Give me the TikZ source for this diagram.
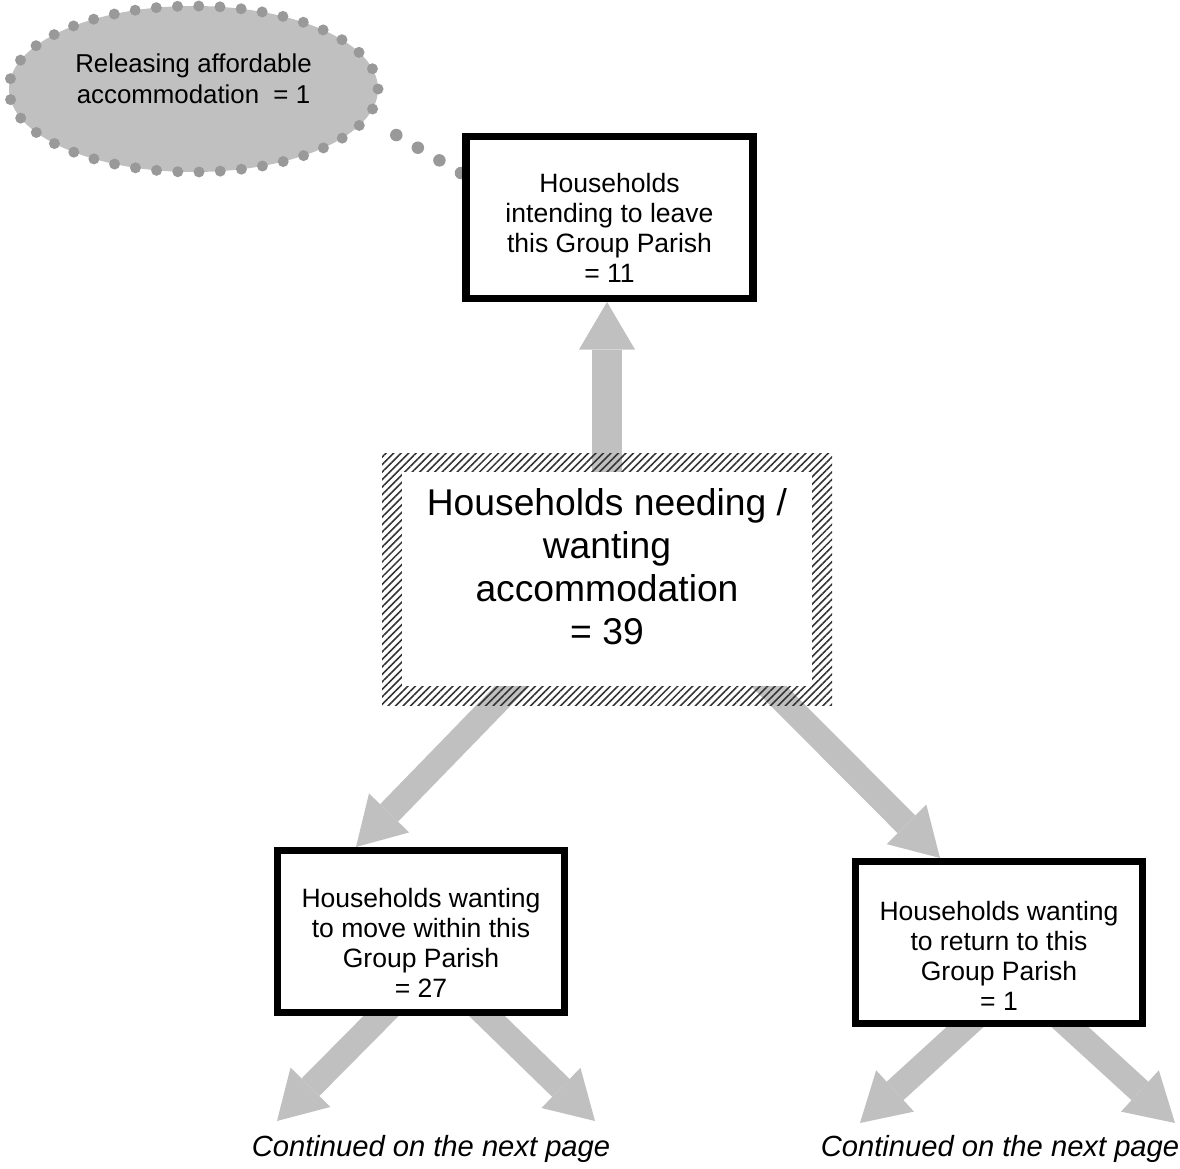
\documentclass[tikz,border=0pt]{standalone}
\usepackage{fontspec}
\setmainfont{Liberation Sans}
\usetikzlibrary{arrows.meta,shapes.geometric,patterns.meta,backgrounds}
\definecolor{arrowgray}{HTML}{C0C0C0}
\definecolor{dotgray}{HTML}{999999}

\begin{document}
\begin{tikzpicture}
\tikzset{
  box/.style={draw=black,line width=4pt,fill=white,minimum width=5.74cm,minimum height=3.24cm,inner sep=0pt},
  boxtext/.style={align=center,font=\fontsize{15.1}{17.1}\selectfont,inner sep=0pt},
  fatarrow/.style={line width=#1,draw=arrowgray,shorten <=-0.3cm,-{Triangle[width=1.12cm,length=0.95cm,line width=0pt]}},
  dotline/.style={draw=dotgray,line width=0.22cm,line cap=round,dash pattern=on 0pt off #1},
  contnote/.style={font=\fontsize{16.6}{19}\selectfont\itshape,anchor=base,inner sep=0pt}
}
\useasboundingbox (0,0) rectangle (23.6,-23.38);

% cloud
\node (cloud) [ellipse,fill=arrowgray,dotline=0.425cm,minimum width=7.38cm,minimum height=3.32cm,inner sep=0pt] at (3.87,-1.78) {};
\node (cloudt) [align=center,font=\fontsize{14.7}{17.6}\selectfont,inner sep=0pt] at (3.87,-1.58) {Releasing affordable\\accommodation \ = 1};

% boxes
\node (top) [box] at (12.19,-4.35) {};
\node (topt) [boxtext] at (12.19,-4.55) {Households\\intending to leave\\this Group Parish\\= 11};

\node (needframe) [pattern={Lines[angle=45,distance=0.106cm,line width=0.9pt]},pattern color=black!80,minimum width=9cm,minimum height=5.04cm,inner sep=0pt] at (12.14,-11.58) {};
\node (need) [fill=white,minimum width=8.2cm,minimum height=4.28cm,inner sep=0pt] at (12.14,-11.58) {};
\node (needt) [align=center,font=\fontsize{21.2}{24.5}\selectfont,inner sep=0pt] at (12.14,-11.34) {Households needing /\\wanting\\accommodation\\= 39};

\node (move) [box] at (8.42,-18.63) {};
\node (movet) [boxtext] at (8.42,-18.86) {Households wanting\\to move within this\\Group Parish\\= 27};
\node (ret) [box] at (19.98,-18.85) {};
\node (rett) [boxtext] at (19.98,-19.11) {Households wanting\\to return to this\\Group Parish\\= 1};

\node (contmove) [contnote] at (8.62,-23.12) {Continued on the next page};
\node (contret) [contnote] at (20.0,-23.12) {Continued on the next page};

\coordinate (moveL) at (5.54,-22.42);
\coordinate (moveR) at (11.9,-22.42);
\coordinate (retL) at (17.2,-22.46);
\coordinate (retR) at (23.5,-22.46);

\begin{scope}[on background layer]
\draw[fatarrow=0.6cm] (need.north) -- (need.north |- top.south);
\draw[fatarrow=0.5cm] ([xshift=-1.9cm]need.south) -- ([xshift=-1.3cm]move.north);
\draw[fatarrow=0.5cm] ([xshift=3.24cm]need.south) -- ([xshift=-1.18cm]ret.north);
\draw[fatarrow=0.5cm] ([xshift=-0.8cm]move.south) -- (moveL);
\draw[fatarrow=0.5cm] ([xshift=1.32cm]move.south) -- (moveR);
\draw[fatarrow=0.5cm] ([xshift=-0.68cm]ret.south) -- (retL);
\draw[fatarrow=0.5cm] ([xshift=1.42cm]ret.south) -- (retR);
%\draw[dotline=0.5cm] (top) -- (cloud);
\draw[dotline=0.5cm,line width=0.25cm,shorten >=0.3cm] ([xshift=-0.03cm,yshift=0.89cm]top.west) -- (cloud.-10.7);
\end{scope}

\end{tikzpicture}
\end{document}
